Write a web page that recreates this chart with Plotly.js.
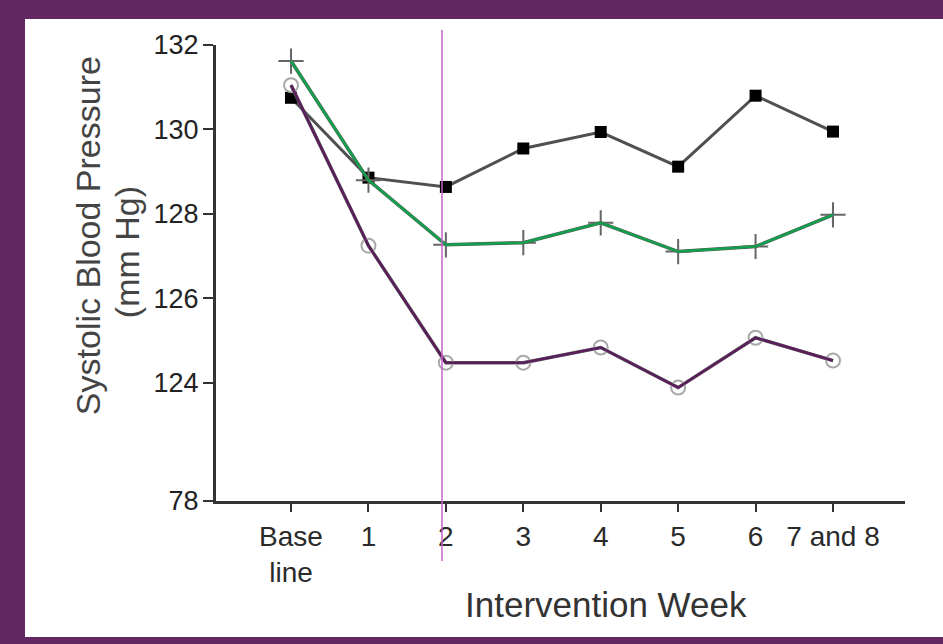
<!DOCTYPE html>
<html>
<head>
<meta charset="utf-8">
<script src="https://cdn.plot.ly/plotly-3.0.1.min.js"></script>
<style>
  html, body { margin: 0; padding: 0; }
  body { width: 943px; height: 644px; background: #632862; position: relative; overflow: hidden; }
  #chart { position: absolute; left: 25px; top: 19px; width: 918px; height: 618px; background: #ffffff; }
</style>
</head>
<body>
<div id="chart"></div>
<script>
// ---- data ----
const weeks = ["Base<br>line", "1", "2", "3", "4", "5", "6", "7 and 8"];
const seriesSquares = [130.75, 128.86, 128.64, 129.55, 129.94, 129.12, 130.80, 129.95];
const seriesPlus    = [131.62, 128.80, 127.27, 127.32, 127.79, 127.11, 127.23, 127.98];
const seriesCircles = [131.05, 127.25, 124.48, 124.48, 124.84, 123.89, 125.07, 124.53];
const upperTicks = [124, 126, 128, 130, 132];
const upperTickText = ["124", "126", "128", "130", "132"];
const lowerTicks = [78];
const lowerTickText = ["78"];
const markerWeek = 1.95; // vertical reference line (intervention week 2)
const yTitleLines = ["Systolic Blood Pressure", "(mm Hg)"];
const xTitle = "Intervention Week";

const FONT = '"Liberation Sans", Arial, Helvetica, sans-serif';
const xIdx = weeks.map((_, i) => i);

const traces = [
  { x: xIdx, y: seriesSquares, type: 'scatter', mode: 'lines+markers', xaxis: 'x', yaxis: 'y', cliponaxis: false,
    line: { color: '#505050', width: 3 },
    marker: { symbol: 'square', size: 12, color: '#000000' } },
  { x: xIdx, y: seriesPlus, type: 'scatter', mode: 'lines+markers', xaxis: 'x', yaxis: 'y', cliponaxis: false,
    line: { color: '#5a5a5a', width: 3.5 },
    marker: { symbol: 'cross-thin', size: 18, color: '#666666', line: { color: '#666666', width: 2 } } },
  { x: xIdx, y: seriesPlus, type: 'scatter', mode: 'lines', xaxis: 'x', yaxis: 'y', cliponaxis: false,
    line: { color: '#12a04c', width: 2.5 } },
  { x: xIdx, y: seriesCircles, type: 'scatter', mode: 'lines+markers', xaxis: 'x', yaxis: 'y', cliponaxis: false,
    line: { color: '#5a5a5a', width: 3.5 },
    marker: { symbol: 'circle-open', size: 14, color: '#a8a8a8', line: { color: '#a8a8a8', width: 2 } } },
  { x: xIdx, y: seriesCircles, type: 'scatter', mode: 'lines', xaxis: 'x', yaxis: 'y', cliponaxis: false,
    line: { color: '#5b1e5c', width: 2.5 } },
  // empty trace so that the lower (broken) axis segment exists
  { x: [], y: [], type: 'scatter', mode: 'markers', xaxis: 'x2', yaxis: 'y2', hoverinfo: 'skip' }
];

const breakFrac = 0.1338;
const xRange = [-0.969, 7.93];

const tickFontY = { size: 27, color: '#222222', family: FONT };

const layout = {
  width: 918, height: 618,
  margin: { l: 191, r: 38, t: 26, b: 136 },
  paper_bgcolor: '#ffffff', plot_bgcolor: '#ffffff',
  showlegend: false,
  font: { family: FONT, color: '#222222' },
  xaxis: {
    type: 'linear', range: xRange, anchor: 'y',
    showticklabels: false, showline: false, showgrid: false, zeroline: false, ticks: ''
  },
  xaxis2: {
    type: 'linear', range: xRange, anchor: 'y2', matches: 'x',
    tickmode: 'array', tickvals: xIdx, ticktext: weeks,
    showgrid: false, zeroline: false,
    showline: true, linecolor: '#333333', linewidth: 3,
    ticks: 'outside', ticklen: 8, tickwidth: 2, tickcolor: '#333333',
    tickfont: { size: 28, color: '#2a2a2a', family: FONT }
  },
  yaxis: {
    domain: [breakFrac, 1], range: [122.65, 132], anchor: 'x',
    tickmode: 'array', tickvals: upperTicks, ticktext: upperTickText,
    showgrid: false, zeroline: false,
    showline: true, linecolor: '#333333', linewidth: 3,
    ticks: 'outside', ticklen: 10, tickwidth: 2, tickcolor: '#333333',
    tickfont: tickFontY, ticklabelstandoff: -1
  },
  yaxis2: {
    domain: [0, breakFrac], range: [78, 79.44], anchor: 'x2',
    tickmode: 'array', tickvals: lowerTicks, ticktext: lowerTickText,
    showgrid: false, zeroline: false,
    showline: true, linecolor: '#333333', linewidth: 3,
    ticks: 'outside', ticklen: 10, tickwidth: 2, tickcolor: '#333333',
    tickfont: tickFontY, ticklabelstandoff: -1
  },
  shapes: [
    { type: 'line', xref: 'x', yref: 'paper', x0: markerWeek, x1: markerWeek, y0: -0.1316, y1: 1.033,
      line: { color: '#c862c8', width: 1.5 } }
  ],
  annotations: [
    { text: yTitleLines[0], xref: 'paper', yref: 'paper', x: -0.1858, y: 0.583, textangle: -90,
      xanchor: 'center', yanchor: 'middle', showarrow: false,
      font: { size: 34, color: '#444444', family: FONT } },
    { text: yTitleLines[1], xref: 'paper', yref: 'paper', x: -0.129, y: 0.546, textangle: -90,
      xanchor: 'center', yanchor: 'middle', showarrow: false,
      font: { size: 34, color: '#444444', family: FONT } },
    { text: xTitle, xref: 'paper', yref: 'paper', x: 0.566, y: -0.228,
      xanchor: 'center', yanchor: 'middle', showarrow: false,
      font: { size: 35, color: '#333333', family: FONT } }
  ]
};

Plotly.newPlot('chart', traces, layout, { displayModeBar: false, staticPlot: true });
</script>
</body>
</html>
